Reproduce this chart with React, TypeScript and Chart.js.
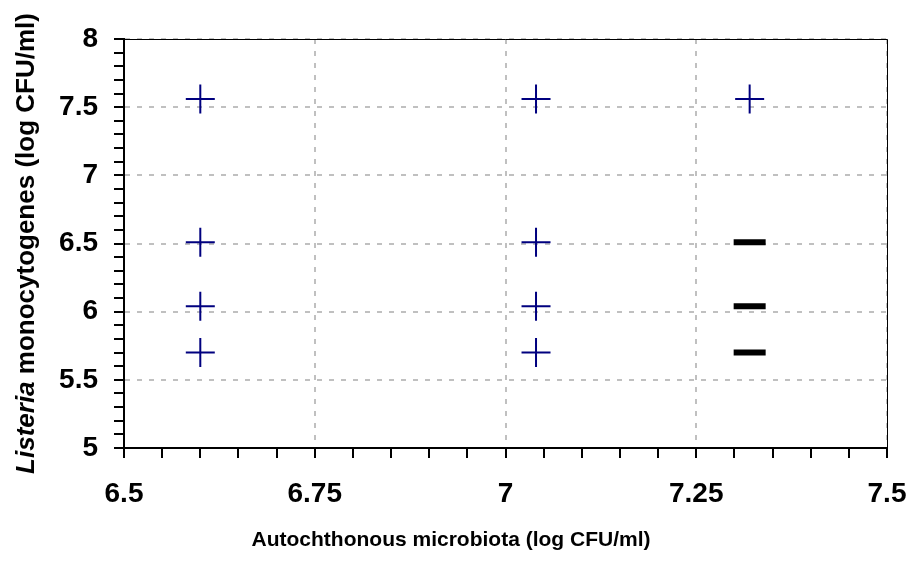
import React, { useEffect, useRef } from "react";
import { Chart, registerables } from "chart.js";

Chart.register(...registerables);

// Series 1: navy "+" markers
const crossX = [6.6, 6.6, 6.6, 6.6, 7.04, 7.04, 7.04, 7.04, 7.32];
const crossY = [7.56, 6.51, 6.04, 5.7, 7.56, 6.51, 6.04, 5.7, 7.56];
// Series 2: black dash markers
const dashX = [7.32, 7.32, 7.32];
const dashY = [6.51, 6.04, 5.7];

const xMin = 6.5, xMax = 7.5, xMinorStep = 0.05, xMajorStep = 0.25;
const yMin = 5, yMax = 8, yMinorStep = 0.1, yMajorStep = 0.5;

const xTitle = "Autochthonous microbiota (log CFU/ml)";
const yTitleItalic = "Listeria";
const yTitleRest = " monocytogenes (log CFU/ml)";

const FONT = "'Liberation Sans', Arial, sans-serif";

const isMajor = (v: number, step: number) => Math.abs(v / step - Math.round(v / step)) < 1e-6;
const fmt = (v: number) => String(Math.round(v * 100) / 100);

export default function App() {
  const ref = useRef<HTMLCanvasElement | null>(null);
  useEffect(() => {
    if (!ref.current) return;
    const titlesPlugin = {
      id: "titles",
      beforeDatasetsDraw(chart: any) {
        const { ctx, chartArea } = chart;
        ctx.save();
        ctx.strokeStyle = "#000";
        ctx.lineWidth = 1;
        ctx.beginPath();
        ctx.moveTo(chartArea.left, chartArea.top + 0.5);
        ctx.lineTo(chartArea.right + 0.5, chartArea.top + 0.5);
        ctx.lineTo(chartArea.right + 0.5, chartArea.bottom);
        ctx.stroke();
        ctx.restore();
      },
      afterDraw(chart: any) {
        const { ctx, chartArea } = chart;
        ctx.save();
        ctx.fillStyle = "#000";
        ctx.textBaseline = "middle";
        ctx.textAlign = "center";
        ctx.font = `bold 21px ${FONT}`;
        ctx.fillText(xTitle, 451, 540);
        // y title
        const ys = 26;
        ctx.textBaseline = "alphabetic";
        ctx.translate(34, (chartArea.top + chartArea.bottom) / 2);
        ctx.rotate(-Math.PI / 2);
        ctx.textAlign = "left";
        ctx.font = `italic bold ${ys}px ${FONT}`;
        const w1 = ctx.measureText(yTitleItalic).width;
        ctx.font = `bold ${ys}px ${FONT}`;
        const w2 = ctx.measureText(yTitleRest).width;
        const start = -(w1 + w2) / 2;
        ctx.font = `italic bold ${ys}px ${FONT}`;
        ctx.fillText(yTitleItalic, start, 0);
        ctx.font = `bold ${ys}px ${FONT}`;
        ctx.fillText(yTitleRest, start + w1, 0);
        ctx.restore();
      },
    };
    const chart = new Chart(ref.current, {
      type: "scatter",
      data: {
        datasets: [
          {
            label: "cross",
            data: crossX.map((x, i) => ({ x, y: crossY[i] })),
            pointStyle: "cross",
            pointRadius: 14.5,
            pointBorderWidth: 2,
            borderColor: "#00007f",
            backgroundColor: "#00007f",
          },
          {
            label: "dash",
            data: dashX.map((x, i) => ({ x, y: dashY[i] })),
            pointStyle: "line",
            pointRadius: 16,
            pointBorderWidth: 6,
            borderColor: "#000",
            backgroundColor: "#000",
          },
        ],
      },
      options: {
        animation: false,
        responsive: false,
        devicePixelRatio: 1,
        layout: { padding: { left: 0, top: 39, right: 23, bottom: 0 } },
        plugins: { legend: { display: false }, tooltip: { enabled: false }, title: { display: false } },
        scales: {
          x: {
            type: "linear",
            min: xMin,
            max: xMax,
            afterFit: (s: any) => { s.height = 113; s.paddingRight = 0; s.paddingLeft = 0; },
            ticks: {
              stepSize: xMinorStep,
              autoSkip: false,
              maxRotation: 0,
              padding: 19,
              color: "#000",
              font: { family: FONT, size: 28, weight: "bold" },
              callback: (v: any) => (isMajor(Number(v), xMajorStep) ? fmt(Number(v)) : ""),
            },
            grid: {
              color: (c: any) => (c.tick && isMajor(c.tick.value, xMajorStep) ? "#c0c0c0" : "rgba(0,0,0,0)"),
              lineWidth: 2,
              tickColor: "#000",
              tickWidth: 2,
              tickLength: 10,
              tickBorderDash: [],
            },
            border: { display: true, color: "#000", width: 2, dash: [5, 7] },
          },
          y: {
            type: "linear",
            min: yMin,
            max: yMax,
            afterFit: (s: any) => { s.width = 124; s.paddingTop = 0; s.paddingBottom = 0; },
            ticks: {
              stepSize: yMinorStep,
              autoSkip: false,
              padding: 16,
              color: "#000",
              font: { family: FONT, size: 28, weight: "bold" },
              callback: (v: any) => (isMajor(Number(v), yMajorStep) ? fmt(Number(v)) : ""),
            },
            grid: {
              color: (c: any) => (c.tick && isMajor(c.tick.value, yMajorStep) ? "#c0c0c0" : "rgba(0,0,0,0)"),
              lineWidth: 2,
              tickColor: "#000",
              tickWidth: 2,
              tickLength: 10,
              tickBorderDash: [],
            },
            border: { display: true, color: "#000", width: 2, dash: [5, 7] },
          },
        },
      },
      plugins: [titlesPlugin],
    } as any);
    return () => chart.destroy();
  }, []);
  return (
    <div style={{ position: "absolute", left: 0, top: 0, width: 910, height: 561, background: "#fff" }}>
      <canvas ref={ref} width={910} height={561} />
    </div>
  );
}
